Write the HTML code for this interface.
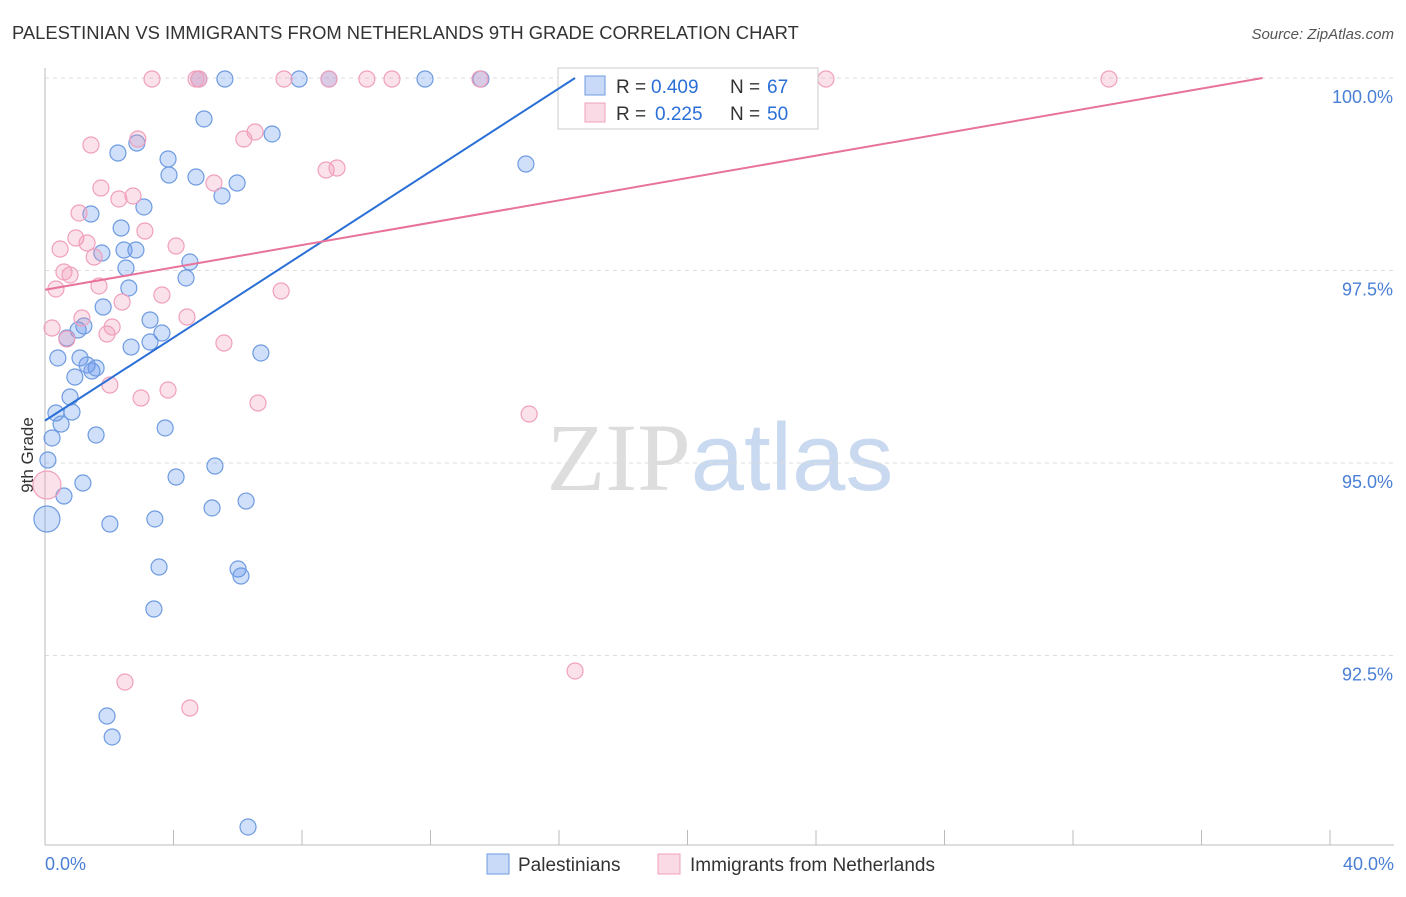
<!DOCTYPE html>
<html><head><meta charset="utf-8"><style>
body{margin:0;background:#fff;font-family:"Liberation Sans",sans-serif;}
svg text{font-family:"Liberation Sans",sans-serif;}
</style></head><body>
<svg id="chart" width="1406" height="892" xmlns="http://www.w3.org/2000/svg">
<text x="12" y="39" font-size="18.4" fill="#333">PALESTINIAN VS IMMIGRANTS FROM NETHERLANDS 9TH GRADE CORRELATION CHART</text>
<text x="1394" y="39" font-size="15" fill="#555" text-anchor="end" font-style="italic">Source: ZipAtlas.com</text>
<text x="720" y="490" font-size="96" text-anchor="middle"><tspan fill="#ddd" font-family="Liberation Serif">ZIP</tspan><tspan fill="#c9d9f0">atlas</tspan></text>
<text transform="translate(33,455) rotate(-90)" font-size="17" fill="#333" text-anchor="middle">9th Grade</text>
<g id="grid"></g><g id="axes"></g><g id="pts"></g>
<g>
<rect x="558" y="68" width="260" height="61" fill="#fff" stroke="#ccc"/>
<rect x="585" y="76" width="20" height="19" fill="rgba(100,149,237,0.35)" stroke="#6e9be0"/>
<text x="616" y="93" font-size="19" fill="#333">R =</text>
<text x="651" y="93" font-size="19" fill="#2a6fd6">0.409</text>
<text x="730" y="93" font-size="19" fill="#333">N =</text>
<text x="767" y="93" font-size="19" fill="#2a6fd6">67</text>
<rect x="585" y="103" width="20" height="19" fill="rgba(240,150,180,0.35)" stroke="#f0a0bc"/>
<text x="616" y="120" font-size="19" fill="#333">R =</text>
<text x="655" y="120" font-size="19" fill="#2a6fd6">0.225</text>
<text x="730" y="120" font-size="19" fill="#333">N =</text>
<text x="767" y="120" font-size="19" fill="#2a6fd6">50</text>
</g>
<g id="lines"></g>
<g>
<rect x="487" y="854" width="22" height="20" fill="rgba(100,149,237,0.35)" stroke="#6e9be0"/>
<text x="518" y="871" font-size="19" fill="#333">Palestinians</text>
<rect x="658" y="854" width="22" height="20" fill="rgba(240,150,180,0.35)" stroke="#f0a0bc"/>
<text x="690" y="871" font-size="19" fill="#333">Immigrants from Netherlands</text>
</g>
</svg>
<script>
const yTicks=[100,97.5,95,92.5];
const yTickLabels=["100.0%","97.5%","95.0%","92.5%"];
const xTicks=[0,4,8,12,16,20,24,28,32,36,40];
const bluePx=[[47,519],[48,460],[52,438],[56,413],[61,424],[64,496],[58,358],[67,338],[70,397],[72,412],[75,377],[78,330],[80,358],[84,326],[83,483],[87,365],[92,371],[96,368],[96,435],[91,214],[102,253],[103,307],[107,716],[110,524],[112,737],[118,153],[121,228],[124,250],[126,268],[129,288],[131,347],[136,250],[137,143],[144,207],[150,320],[150,342],[155,519],[154,609],[159,567],[162,333],[165,428],[168,159],[169,175],[176,477],[186,278],[190,262],[196,177],[199,79],[204,119],[212,508],[215,466],[222,196],[225,79],[237,183],[238,569],[241,576],[246,501],[248,827],[261,353],[272,134],[299,79],[329,79],[425,79],[481,79],[526,164],[592,79]];
const pinkPx=[[47,485],[52,328],[56,289],[60,249],[64,272],[70,275],[67,339],[76,238],[79,213],[82,318],[87,243],[91,145],[94,257],[99,286],[101,188],[107,334],[110,385],[112,327],[119,199],[122,302],[125,682],[133,196],[138,139],[141,398],[145,231],[152,79],[162,295],[168,390],[176,246],[187,317],[190,708],[196,79],[199,79],[214,183],[224,343],[244,139],[255,132],[258,403],[281,291],[284,79],[326,170],[337,168],[329,79],[367,79],[392,79],[480,79],[529,414],[575,671],[826,79],[1109,79]];
const blueX=bluePx.map(p=>+((p[0]-45)/1285*40).toFixed(2));
const blueY=bluePx.map(p=>+(100-(p[1]-78)/77).toFixed(3));
const pinkX=pinkPx.map(p=>+((p[0]-45)/1285*40).toFixed(2));
const pinkY=pinkPx.map(p=>+(100-(p[1]-78)/77).toFixed(3));
const blueLine=[[0,95.55],[16.5,100]];
const pinkLine=[[0,97.25],[37.9,100]];
const X=v=>45+v/40*1285, Y=v=>78+(100-v)*77;
const NS="http://www.w3.org/2000/svg";
function mk(t,a,parent){const e=document.createElementNS(NS,t);for(const k in a)e.setAttribute(k,a[k]);document.getElementById(parent).appendChild(e);return e;}
yTicks.forEach((t,i)=>{
 const g=mk('line',{x1:45,x2:1394,y1:Y(t),y2:Y(t),stroke:'#ddd','stroke-dasharray':'4,4'},'grid');
 
 
 const l=mk('text',{x:1393,y:Y(t)+25,'font-size':18,fill:'#4a7fd6','text-anchor':'end'},'axes');
 l.textContent=yTickLabels[i];
 
 
});
const ya=mk('line',{x1:45,x2:45,y1:68,y2:845,stroke:'#bbb'},'axes');


const xa=mk('line',{x1:45,x2:1394,y1:845,y2:845,stroke:'#bbb'},'axes');


xTicks.forEach(t=>{const e=mk('line',{x1:X(t),x2:X(t),y1:830,y2:845,stroke:'#bbb'},'axes');
 
 });
const x0=mk('text',{x:45,y:870,'font-size':18,fill:'#4a7fd6'},'axes');x0.textContent='0.0%';


const x1=mk('text',{x:1394,y:870,'font-size':18,fill:'#4a7fd6','text-anchor':'end'},'axes');x1.textContent='40.0%';


blueX.forEach((x,i)=>{const c=mk('circle',{cx:X(x),cy:Y(blueY[i]),r:i==0?13:8,fill:'rgba(100,149,237,0.3)',stroke:'#6e9be0','stroke-width':1.2},'pts');
 
 });
pinkX.forEach((x,i)=>{const c=mk('circle',{cx:X(x),cy:Y(pinkY[i]),r:i==0?14:8,fill:'rgba(240,150,180,0.28)',stroke:'#f0a0bc','stroke-width':1.2},'pts');
 
 });
const bl=mk('line',{x1:X(blueLine[0][0]),y1:Y(blueLine[0][1]),x2:X(blueLine[1][0]),y2:Y(blueLine[1][1]),stroke:'#2a6fd6','stroke-width':2},'lines');


const pl=mk('line',{x1:X(pinkLine[0][0]),y1:Y(pinkLine[0][1]),x2:X(pinkLine[1][0]),y2:Y(pinkLine[1][1]),stroke:'#e8739a','stroke-width':2},'lines');


</script>
</body></html>
